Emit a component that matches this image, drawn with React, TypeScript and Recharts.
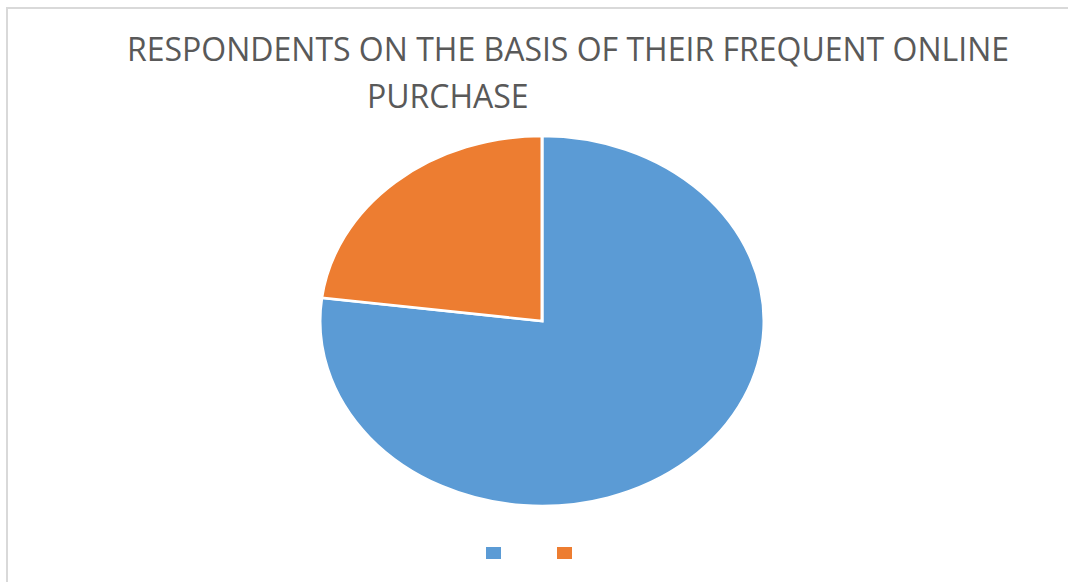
import { PieChart, Pie, Cell } from 'recharts';

const categories = ['Frequent', 'Not frequent'];
const shares = [77, 23];
const colors = ['#5b9bd5', '#ed7d31'];
const titleLines = ['RESPONDENTS ON THE BASIS OF THEIR FREQUENT ONLINE', 'PURCHASE'];

const data = categories.map((name, i) => ({ name, value: shares[i] }));

const RX = 222;
const RY = 185;
const BOX = RX * 2 + 4;

export default function App() {
  return (
    <div
      style={{
        position: 'absolute',
        left: 0,
        top: 0,
        width: 1068,
        height: 582,
        background: '#fff',
        overflow: 'hidden',
        fontFamily: '"Open Sans", sans-serif',
      }}
    >
      {/* chart frame, only top/left edges show in the crop */}
      <div
        style={{
          position: 'absolute',
          left: 6,
          top: 7,
          width: 1080,
          height: 600,
          borderTop: '2px solid #d9d9d9',
          borderLeft: '2px solid #d9d9d9',
        }}
      />
      <div
        style={{
          position: 'absolute',
          left: 0,
          width: 1136,
          top: 27,
          textAlign: 'center',
          fontSize: 32,
          color: '#595959',
          whiteSpace: 'nowrap',
        }}
      >
        {titleLines[0]}
      </div>
      <div
        style={{
          position: 'absolute',
          left: 367,
          top: 74,
          fontSize: 32,
          color: '#595959',
          whiteSpace: 'nowrap',
        }}
      >
        {titleLines[1]}
      </div>
      <div
        style={{
          position: 'absolute',
          left: 542 - BOX / 2,
          top: 321 - BOX / 2,
          width: BOX,
          height: BOX,
          transform: `scaleY(${RY / RX})`,
          transformOrigin: 'center center',
        }}
      >
        <PieChart width={BOX} height={BOX} margin={{ top: 0, right: 0, bottom: 0, left: 0 }}>
          <Pie
            data={data}
            dataKey="value"
            nameKey="name"
            cx="50%"
            cy="50%"
            outerRadius={RX}
            startAngle={90}
            endAngle={-270}
            stroke="#ffffff"
            strokeWidth={3}
            isAnimationActive={false}
          >
            {data.map((d, i) => (
              <Cell key={d.name} fill={colors[i]} />
            ))}
          </Pie>
        </PieChart>
      </div>
      {data.map((d, i) => (
        <div
          key={d.name}
          style={{
            position: 'absolute',
            left: 486 + i * 71,
            top: 547,
            width: 15,
            height: 12,
            background: colors[i],
          }}
        />
      ))}
    </div>
  );
}
